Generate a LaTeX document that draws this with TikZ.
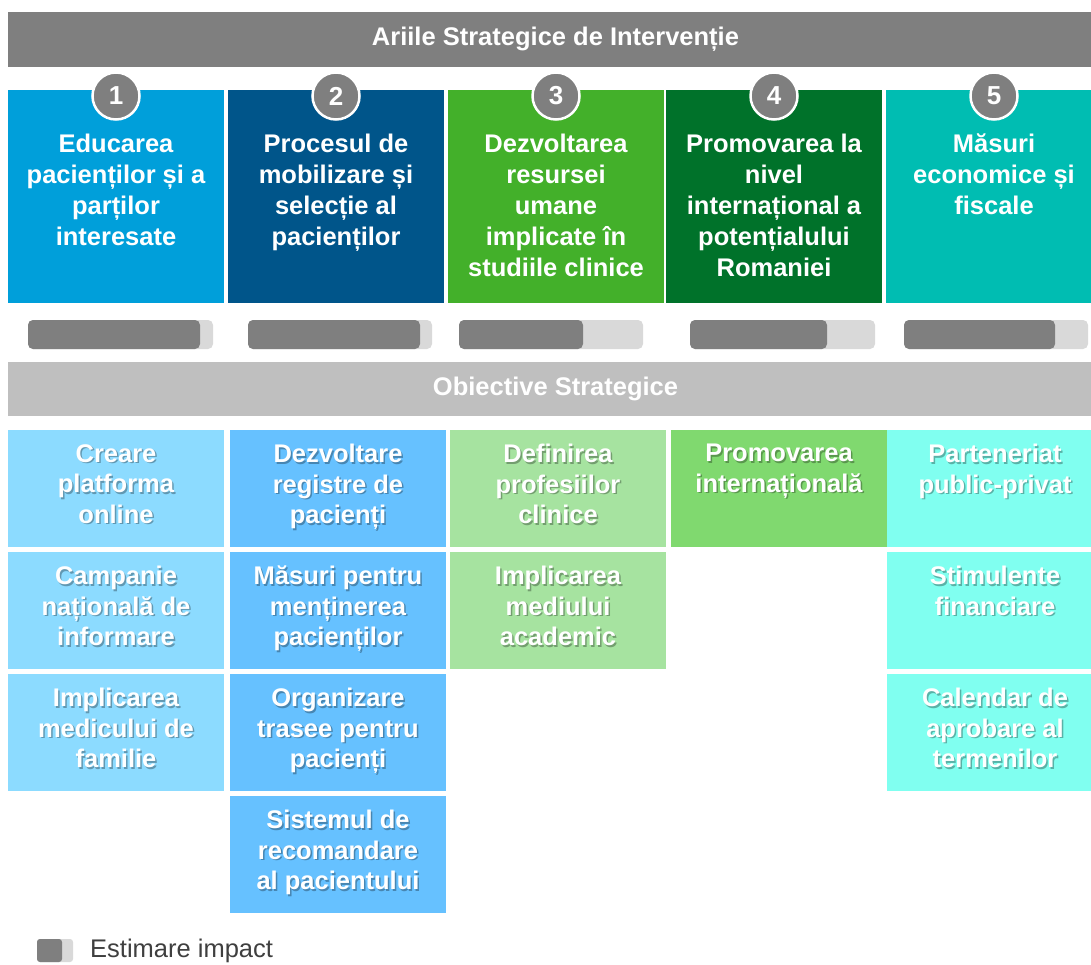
\documentclass[tikz,border=0pt]{standalone}
\usepackage{fontspec}
\setmainfont{Liberation Sans}
\usetikzlibrary{positioning}

\definecolor{hdrgray}{HTML}{7F7F7F}
\definecolor{objgray}{HTML}{BFBFBF}
\definecolor{barlight}{HTML}{D9D9D9}
\definecolor{legendtxt}{HTML}{3F3F3F}
\definecolor{areaA}{HTML}{009FDA}
\definecolor{areaB}{HTML}{00558A}
\definecolor{areaC}{HTML}{43B02A}
\definecolor{areaD}{HTML}{00722A}
\definecolor{areaE}{HTML}{00BDB2}
\definecolor{objA}{HTML}{8CDBFF}
\definecolor{objB}{HTML}{66C1FF}
\definecolor{objC}{HTML}{A6E3A0}
\definecolor{objD}{HTML}{80D96F}
\definecolor{objE}{HTML}{80FFF0}

% white label with a soft drop shadow
\newcommand{\objlabel}[2]{%
  \node[objtxt, text=black, text opacity=0.3] (#1s) at ([xshift=1.5pt,yshift=-15.5pt]#1.north) {#2};
  \node[objtxt] (#1t) at ([yshift=-14pt]#1.north) {#2};}

\begin{document}
\begin{tikzpicture}[x=1pt, y=-1pt,
    area/.style={minimum width=216pt, minimum height=213pt, inner sep=0pt, outer sep=0pt, anchor=north west},
    objbox/.style={minimum width=216pt, minimum height=117pt, inner sep=0pt, outer sep=0pt, anchor=north west},
    areatxt/.style={text=white, font=\fontsize{25.5}{31}\selectfont\bfseries, align=center, inner sep=0pt, anchor=north},
    objtxt/.style={text=white, font=\fontsize{25.5}{30.5}\selectfont\bfseries, align=center, inner sep=0pt, anchor=north},
    band/.style={minimum width=1095pt, inner sep=0pt, outer sep=0pt, anchor=north west, text=white, font=\fontsize{25.5}{31}\selectfont\bfseries},
    num/.style={circle, minimum size=47pt, inner sep=0pt, fill=hdrgray, draw=white, line width=2.5pt, text=white, font=\fontsize{26}{26}\selectfont\bfseries},
    barfull/.style={fill=barlight, rounded corners=5pt},
    barval/.style={fill=hdrgray, rounded corners=5pt}]

    \useasboundingbox (0,0) rectangle (1091,964);
    \fill[white] (0,0) rectangle (1091,964);

    % Header
    \node[band, fill=hdrgray, minimum height=55pt] (head) at (8,12) {Ariile Strategice de Intervenție};

    % Strategic areas
    \node[area, fill=areaA] (a1) at (8,90) {};
    \node[area, fill=areaB] (a2) at (228,90) {};
    \node[area, fill=areaC] (a3) at (448,90) {};
    \node[area, fill=areaD] (a4) at (666,90) {};
    \node[area, fill=areaE] (a5) at (886,90) {};

    \node[areatxt] (a1t) at ([yshift=-44pt]a1.north) {Educarea\\pacienților și a\\parților\\interesate};
    \node[areatxt] (a2t) at ([yshift=-44pt]a2.north) {Procesul de\\mobilizare și\\selecție al\\pacienților};
    \node[areatxt] (a3t) at ([yshift=-44pt]a3.north) {Dezvoltarea\\resursei\\umane\\implicate în\\studiile clinice};
    \node[areatxt] (a4t) at ([yshift=-44pt]a4.north) {Promovarea la\\nivel\\internațional a\\potențialului\\Romaniei};
    \node[areatxt] (a5t) at ([yshift=-44pt]a5.north) {Măsuri\\economice și\\fiscale};

    \node[num] (n1) at ([yshift=-6pt]a1.north) {1};
    \node[num] (n2) at ([yshift=-6pt]a2.north) {2};
    \node[num] (n3) at ([yshift=-6pt]a3.north) {3};
    \node[num] (n4) at ([yshift=-6pt]a4.north) {4};
    \node[num] (n5) at ([yshift=-6pt]a5.north) {5};

    % Impact bars
    \fill[barfull] (28,320) rectangle (213,349);
    \fill[barval] (28,320) rectangle (200,349);
    \fill[barfull] (248,320) rectangle (432,349);
    \fill[barval] (248,320) rectangle (420,349);
    \fill[barfull] (459,320) rectangle (643,349);
    \fill[barval] (459,320) rectangle (583,349);
    \fill[barfull] (690,320) rectangle (875,349);
    \fill[barval] (690,320) rectangle (827,349);
    \fill[barfull] (904,320) rectangle (1088,349);
    \fill[barval] (904,320) rectangle (1055,349);

    % Objectives
    \node[band, fill=objgray, minimum height=54pt] (obh) at (8,362) {Obiective Strategice};

    \node[objbox, fill=objA] (o11) at (8,430) {};
    \node[objbox, fill=objA] (o12) at (8,552) {};
    \node[objbox, fill=objA] (o13) at (8,674) {};
    \node[objbox, fill=objB] (o21) at (230,430) {};
    \node[objbox, fill=objB] (o22) at (230,552) {};
    \node[objbox, fill=objB] (o23) at (230,674) {};
    \node[objbox, fill=objB] (o24) at (230,796) {};
    \node[objbox, fill=objC] (o31) at (450,430) {};
    \node[objbox, fill=objC] (o32) at (450,552) {};
    \node[objbox, fill=objD] (o41) at (671,430) {};
    \node[objbox, fill=objE] (o51) at (887,430) {};
    \node[objbox, fill=objE] (o52) at (887,552) {};
    \node[objbox, fill=objE] (o53) at (887,674) {};

    \objlabel{o11}{Creare\\platforma\\online}
    \objlabel{o12}{Campanie\\națională de\\informare}
    \objlabel{o13}{Implicarea\\medicului de\\familie}
    \objlabel{o21}{Dezvoltare\\registre de\\pacienți}
    \objlabel{o22}{Măsuri pentru\\menținerea\\pacienților}
    \objlabel{o23}{Organizare\\trasee pentru\\pacienți}
    \objlabel{o24}{Sistemul de\\recomandare\\al pacientului}
    \objlabel{o31}{Definirea\\profesiilor\\clinice}
    \objlabel{o32}{Implicarea\\mediului\\academic}
    \objlabel{o41}{Promovarea\\internațională}
    \objlabel{o51}{Parteneriat\\public-privat}
    \objlabel{o52}{Stimulente\\financiare}
    \objlabel{o53}{Calendar de\\aprobare al\\termenilor}

    % Legend
    \fill[barlight, rounded corners=3pt] (37,939) rectangle (73,962);
    \fill[hdrgray, rounded corners=3pt] (37,939) rectangle (62,962);
    \node[anchor=base west, text=legendtxt, font=\fontsize{25.5}{30}\selectfont, inner sep=0pt] (leg) at (90,957) {Estimare impact};
\end{tikzpicture}
\end{document}
